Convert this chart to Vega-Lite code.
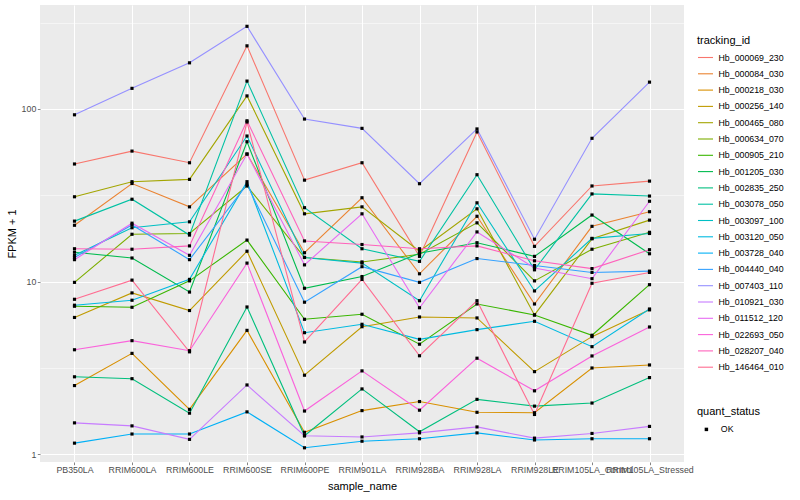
{
"$schema": "https://vega.github.io/schema/vega-lite/v6.json",
"width": 644, "height": 457,
"autosize": {"type": "none"},
"padding": {"left": 40, "top": 5, "right": 116, "bottom": 38},
"background": "white",
"config": {
 "view": {"stroke": null, "fill": "#EBEBEB"},
 "font": "Liberation Sans",
 "axis": {"domain": false, "gridColor": "white", "tickColor": "#333333", "tickSize": 2.7, "tickWidth": 0.6, "labelColor": "#4D4D4D", "labelFontSize": 8.8, "labelFont": "Liberation Sans", "titleFont": "Liberation Sans", "titleFontSize": 11, "titleFontWeight": "normal", "titleColor": "black"},
 "legend": {"titleFont": "Liberation Sans", "labelFont": "Liberation Sans", "titleFontWeight": "normal", "titleFontSize": 11, "labelFontSize": 8.8, "labelColor": "black", "titleColor": "black"}
},
"data": {"values": [
{"sample_name":"PB350LA","tracking_id":"Hb_000069_230","fpkm1":48.0,"quant_status":"OK"},
{"sample_name":"RRIM600LA","tracking_id":"Hb_000069_230","fpkm1":57.0,"quant_status":"OK"},
{"sample_name":"RRIM600LE","tracking_id":"Hb_000069_230","fpkm1":48.8,"quant_status":"OK"},
{"sample_name":"RRIM600SE","tracking_id":"Hb_000069_230","fpkm1":232,"quant_status":"OK"},
{"sample_name":"RRIM600PE","tracking_id":"Hb_000069_230","fpkm1":38.7,"quant_status":"OK"},
{"sample_name":"RRIM901LA","tracking_id":"Hb_000069_230","fpkm1":48.8,"quant_status":"OK"},
{"sample_name":"RRIM928BA","tracking_id":"Hb_000069_230","fpkm1":14.0,"quant_status":"OK"},
{"sample_name":"RRIM928LA","tracking_id":"Hb_000069_230","fpkm1":73.6,"quant_status":"OK"},
{"sample_name":"RRIM928LE","tracking_id":"Hb_000069_230","fpkm1":16.0,"quant_status":"OK"},
{"sample_name":"RRIM105LA_Control","tracking_id":"Hb_000069_230","fpkm1":35.8,"quant_status":"OK"},
{"sample_name":"RRIM105LA_Stressed","tracking_id":"Hb_000069_230","fpkm1":38.2,"quant_status":"OK"},
{"sample_name":"PB350LA","tracking_id":"Hb_000084_030","fpkm1":21.2,"quant_status":"OK"},
{"sample_name":"RRIM600LA","tracking_id":"Hb_000084_030","fpkm1":37.0,"quant_status":"OK"},
{"sample_name":"RRIM600LE","tracking_id":"Hb_000084_030","fpkm1":27.1,"quant_status":"OK"},
{"sample_name":"RRIM600SE","tracking_id":"Hb_000084_030","fpkm1":54.8,"quant_status":"OK"},
{"sample_name":"RRIM600PE","tracking_id":"Hb_000084_030","fpkm1":14.7,"quant_status":"OK"},
{"sample_name":"RRIM901LA","tracking_id":"Hb_000084_030","fpkm1":30.6,"quant_status":"OK"},
{"sample_name":"RRIM928BA","tracking_id":"Hb_000084_030","fpkm1":11.1,"quant_status":"OK"},
{"sample_name":"RRIM928LA","tracking_id":"Hb_000084_030","fpkm1":23.9,"quant_status":"OK"},
{"sample_name":"RRIM928LE","tracking_id":"Hb_000084_030","fpkm1":7.42,"quant_status":"OK"},
{"sample_name":"RRIM105LA_Control","tracking_id":"Hb_000084_030","fpkm1":20.9,"quant_status":"OK"},
{"sample_name":"RRIM105LA_Stressed","tracking_id":"Hb_000084_030","fpkm1":25.4,"quant_status":"OK"},
{"sample_name":"PB350LA","tracking_id":"Hb_000218_030","fpkm1":2.50,"quant_status":"OK"},
{"sample_name":"RRIM600LA","tracking_id":"Hb_000218_030","fpkm1":3.84,"quant_status":"OK"},
{"sample_name":"RRIM600LE","tracking_id":"Hb_000218_030","fpkm1":1.82,"quant_status":"OK"},
{"sample_name":"RRIM600SE","tracking_id":"Hb_000218_030","fpkm1":5.22,"quant_status":"OK"},
{"sample_name":"RRIM600PE","tracking_id":"Hb_000218_030","fpkm1":1.34,"quant_status":"OK"},
{"sample_name":"RRIM901LA","tracking_id":"Hb_000218_030","fpkm1":1.79,"quant_status":"OK"},
{"sample_name":"RRIM928BA","tracking_id":"Hb_000218_030","fpkm1":2.02,"quant_status":"OK"},
{"sample_name":"RRIM928LA","tracking_id":"Hb_000218_030","fpkm1":1.75,"quant_status":"OK"},
{"sample_name":"RRIM928LE","tracking_id":"Hb_000218_030","fpkm1":1.74,"quant_status":"OK"},
{"sample_name":"RRIM105LA_Control","tracking_id":"Hb_000218_030","fpkm1":3.16,"quant_status":"OK"},
{"sample_name":"RRIM105LA_Stressed","tracking_id":"Hb_000218_030","fpkm1":3.29,"quant_status":"OK"},
{"sample_name":"PB350LA","tracking_id":"Hb_000256_140","fpkm1":6.2,"quant_status":"OK"},
{"sample_name":"RRIM600LA","tracking_id":"Hb_000256_140","fpkm1":8.6,"quant_status":"OK"},
{"sample_name":"RRIM600LE","tracking_id":"Hb_000256_140","fpkm1":6.8,"quant_status":"OK"},
{"sample_name":"RRIM600SE","tracking_id":"Hb_000256_140","fpkm1":15.0,"quant_status":"OK"},
{"sample_name":"RRIM600PE","tracking_id":"Hb_000256_140","fpkm1":2.87,"quant_status":"OK"},
{"sample_name":"RRIM901LA","tracking_id":"Hb_000256_140","fpkm1":5.48,"quant_status":"OK"},
{"sample_name":"RRIM928BA","tracking_id":"Hb_000256_140","fpkm1":6.24,"quant_status":"OK"},
{"sample_name":"RRIM928LA","tracking_id":"Hb_000256_140","fpkm1":6.16,"quant_status":"OK"},
{"sample_name":"RRIM928LE","tracking_id":"Hb_000256_140","fpkm1":3.01,"quant_status":"OK"},
{"sample_name":"RRIM105LA_Control","tracking_id":"Hb_000256_140","fpkm1":4.8,"quant_status":"OK"},
{"sample_name":"RRIM105LA_Stressed","tracking_id":"Hb_000256_140","fpkm1":6.86,"quant_status":"OK"},
{"sample_name":"PB350LA","tracking_id":"Hb_000465_080","fpkm1":31.0,"quant_status":"OK"},
{"sample_name":"RRIM600LA","tracking_id":"Hb_000465_080","fpkm1":37.9,"quant_status":"OK"},
{"sample_name":"RRIM600LE","tracking_id":"Hb_000465_080","fpkm1":39.1,"quant_status":"OK"},
{"sample_name":"RRIM600SE","tracking_id":"Hb_000465_080","fpkm1":119,"quant_status":"OK"},
{"sample_name":"RRIM600PE","tracking_id":"Hb_000465_080","fpkm1":24.7,"quant_status":"OK"},
{"sample_name":"RRIM901LA","tracking_id":"Hb_000465_080","fpkm1":27.1,"quant_status":"OK"},
{"sample_name":"RRIM928BA","tracking_id":"Hb_000465_080","fpkm1":15.0,"quant_status":"OK"},
{"sample_name":"RRIM928LA","tracking_id":"Hb_000465_080","fpkm1":26.4,"quant_status":"OK"},
{"sample_name":"RRIM928LE","tracking_id":"Hb_000465_080","fpkm1":6.41,"quant_status":"OK"},
{"sample_name":"RRIM105LA_Control","tracking_id":"Hb_000465_080","fpkm1":17.7,"quant_status":"OK"},
{"sample_name":"RRIM105LA_Stressed","tracking_id":"Hb_000465_080","fpkm1":22.7,"quant_status":"OK"},
{"sample_name":"PB350LA","tracking_id":"Hb_000634_070","fpkm1":9.9,"quant_status":"OK"},
{"sample_name":"RRIM600LA","tracking_id":"Hb_000634_070","fpkm1":18.8,"quant_status":"OK"},
{"sample_name":"RRIM600LE","tracking_id":"Hb_000634_070","fpkm1":19.0,"quant_status":"OK"},
{"sample_name":"RRIM600SE","tracking_id":"Hb_000634_070","fpkm1":35.8,"quant_status":"OK"},
{"sample_name":"RRIM600PE","tracking_id":"Hb_000634_070","fpkm1":13.8,"quant_status":"OK"},
{"sample_name":"RRIM901LA","tracking_id":"Hb_000634_070","fpkm1":13.0,"quant_status":"OK"},
{"sample_name":"RRIM928BA","tracking_id":"Hb_000634_070","fpkm1":14.4,"quant_status":"OK"},
{"sample_name":"RRIM928LA","tracking_id":"Hb_000634_070","fpkm1":21.9,"quant_status":"OK"},
{"sample_name":"RRIM928LE","tracking_id":"Hb_000634_070","fpkm1":10.1,"quant_status":"OK"},
{"sample_name":"RRIM105LA_Control","tracking_id":"Hb_000634_070","fpkm1":15.4,"quant_status":"OK"},
{"sample_name":"RRIM105LA_Stressed","tracking_id":"Hb_000634_070","fpkm1":19.3,"quant_status":"OK"},
{"sample_name":"PB350LA","tracking_id":"Hb_000905_210","fpkm1":7.2,"quant_status":"OK"},
{"sample_name":"RRIM600LA","tracking_id":"Hb_000905_210","fpkm1":7.1,"quant_status":"OK"},
{"sample_name":"RRIM600LE","tracking_id":"Hb_000905_210","fpkm1":10.1,"quant_status":"OK"},
{"sample_name":"RRIM600SE","tracking_id":"Hb_000905_210","fpkm1":17.4,"quant_status":"OK"},
{"sample_name":"RRIM600PE","tracking_id":"Hb_000905_210","fpkm1":6.05,"quant_status":"OK"},
{"sample_name":"RRIM901LA","tracking_id":"Hb_000905_210","fpkm1":6.47,"quant_status":"OK"},
{"sample_name":"RRIM928BA","tracking_id":"Hb_000905_210","fpkm1":4.34,"quant_status":"OK"},
{"sample_name":"RRIM928LA","tracking_id":"Hb_000905_210","fpkm1":7.42,"quant_status":"OK"},
{"sample_name":"RRIM928LE","tracking_id":"Hb_000905_210","fpkm1":6.41,"quant_status":"OK"},
{"sample_name":"RRIM105LA_Control","tracking_id":"Hb_000905_210","fpkm1":4.89,"quant_status":"OK"},
{"sample_name":"RRIM105LA_Stressed","tracking_id":"Hb_000905_210","fpkm1":9.6,"quant_status":"OK"},
{"sample_name":"PB350LA","tracking_id":"Hb_001205_030","fpkm1":14.8,"quant_status":"OK"},
{"sample_name":"RRIM600LA","tracking_id":"Hb_001205_030","fpkm1":13.7,"quant_status":"OK"},
{"sample_name":"RRIM600LE","tracking_id":"Hb_001205_030","fpkm1":8.7,"quant_status":"OK"},
{"sample_name":"RRIM600SE","tracking_id":"Hb_001205_030","fpkm1":64.6,"quant_status":"OK"},
{"sample_name":"RRIM600PE","tracking_id":"Hb_001205_030","fpkm1":9.15,"quant_status":"OK"},
{"sample_name":"RRIM901LA","tracking_id":"Hb_001205_030","fpkm1":10.7,"quant_status":"OK"},
{"sample_name":"RRIM928BA","tracking_id":"Hb_001205_030","fpkm1":14.6,"quant_status":"OK"},
{"sample_name":"RRIM928LA","tracking_id":"Hb_001205_030","fpkm1":16.8,"quant_status":"OK"},
{"sample_name":"RRIM928LE","tracking_id":"Hb_001205_030","fpkm1":14.0,"quant_status":"OK"},
{"sample_name":"RRIM105LA_Control","tracking_id":"Hb_001205_030","fpkm1":24.3,"quant_status":"OK"},
{"sample_name":"RRIM105LA_Stressed","tracking_id":"Hb_001205_030","fpkm1":14.5,"quant_status":"OK"},
{"sample_name":"PB350LA","tracking_id":"Hb_002835_250","fpkm1":2.81,"quant_status":"OK"},
{"sample_name":"RRIM600LA","tracking_id":"Hb_002835_250","fpkm1":2.74,"quant_status":"OK"},
{"sample_name":"RRIM600LE","tracking_id":"Hb_002835_250","fpkm1":1.73,"quant_status":"OK"},
{"sample_name":"RRIM600SE","tracking_id":"Hb_002835_250","fpkm1":7.13,"quant_status":"OK"},
{"sample_name":"RRIM600PE","tracking_id":"Hb_002835_250","fpkm1":1.28,"quant_status":"OK"},
{"sample_name":"RRIM901LA","tracking_id":"Hb_002835_250","fpkm1":2.39,"quant_status":"OK"},
{"sample_name":"RRIM928BA","tracking_id":"Hb_002835_250","fpkm1":1.35,"quant_status":"OK"},
{"sample_name":"RRIM928LA","tracking_id":"Hb_002835_250","fpkm1":2.08,"quant_status":"OK"},
{"sample_name":"RRIM928LE","tracking_id":"Hb_002835_250","fpkm1":1.90,"quant_status":"OK"},
{"sample_name":"RRIM105LA_Control","tracking_id":"Hb_002835_250","fpkm1":1.98,"quant_status":"OK"},
{"sample_name":"RRIM105LA_Stressed","tracking_id":"Hb_002835_250","fpkm1":2.78,"quant_status":"OK"},
{"sample_name":"PB350LA","tracking_id":"Hb_003078_050","fpkm1":22.4,"quant_status":"OK"},
{"sample_name":"RRIM600LA","tracking_id":"Hb_003078_050","fpkm1":30.0,"quant_status":"OK"},
{"sample_name":"RRIM600LE","tracking_id":"Hb_003078_050","fpkm1":18.6,"quant_status":"OK"},
{"sample_name":"RRIM600SE","tracking_id":"Hb_003078_050","fpkm1":145,"quant_status":"OK"},
{"sample_name":"RRIM600PE","tracking_id":"Hb_003078_050","fpkm1":26.8,"quant_status":"OK"},
{"sample_name":"RRIM901LA","tracking_id":"Hb_003078_050","fpkm1":15.5,"quant_status":"OK"},
{"sample_name":"RRIM928BA","tracking_id":"Hb_003078_050","fpkm1":13.1,"quant_status":"OK"},
{"sample_name":"RRIM928LA","tracking_id":"Hb_003078_050","fpkm1":41.6,"quant_status":"OK"},
{"sample_name":"RRIM928LE","tracking_id":"Hb_003078_050","fpkm1":11.7,"quant_status":"OK"},
{"sample_name":"RRIM105LA_Control","tracking_id":"Hb_003078_050","fpkm1":32.2,"quant_status":"OK"},
{"sample_name":"RRIM105LA_Stressed","tracking_id":"Hb_003078_050","fpkm1":31.3,"quant_status":"OK"},
{"sample_name":"PB350LA","tracking_id":"Hb_003097_100","fpkm1":14.2,"quant_status":"OK"},
{"sample_name":"RRIM600LA","tracking_id":"Hb_003097_100","fpkm1":20.5,"quant_status":"OK"},
{"sample_name":"RRIM600LE","tracking_id":"Hb_003097_100","fpkm1":22.2,"quant_status":"OK"},
{"sample_name":"RRIM600SE","tracking_id":"Hb_003097_100","fpkm1":69.7,"quant_status":"OK"},
{"sample_name":"RRIM600PE","tracking_id":"Hb_003097_100","fpkm1":13.8,"quant_status":"OK"},
{"sample_name":"RRIM901LA","tracking_id":"Hb_003097_100","fpkm1":12.8,"quant_status":"OK"},
{"sample_name":"RRIM928BA","tracking_id":"Hb_003097_100","fpkm1":7.75,"quant_status":"OK"},
{"sample_name":"RRIM928LA","tracking_id":"Hb_003097_100","fpkm1":28.6,"quant_status":"OK"},
{"sample_name":"RRIM928LE","tracking_id":"Hb_003097_100","fpkm1":8.83,"quant_status":"OK"},
{"sample_name":"RRIM105LA_Control","tracking_id":"Hb_003097_100","fpkm1":17.8,"quant_status":"OK"},
{"sample_name":"RRIM105LA_Stressed","tracking_id":"Hb_003097_100","fpkm1":19.0,"quant_status":"OK"},
{"sample_name":"PB350LA","tracking_id":"Hb_003120_050","fpkm1":7.3,"quant_status":"OK"},
{"sample_name":"RRIM600LA","tracking_id":"Hb_003120_050","fpkm1":7.8,"quant_status":"OK"},
{"sample_name":"RRIM600LE","tracking_id":"Hb_003120_050","fpkm1":10.3,"quant_status":"OK"},
{"sample_name":"RRIM600SE","tracking_id":"Hb_003120_050","fpkm1":37.9,"quant_status":"OK"},
{"sample_name":"RRIM600PE","tracking_id":"Hb_003120_050","fpkm1":5.06,"quant_status":"OK"},
{"sample_name":"RRIM901LA","tracking_id":"Hb_003120_050","fpkm1":5.66,"quant_status":"OK"},
{"sample_name":"RRIM928BA","tracking_id":"Hb_003120_050","fpkm1":4.63,"quant_status":"OK"},
{"sample_name":"RRIM928LA","tracking_id":"Hb_003120_050","fpkm1":5.27,"quant_status":"OK"},
{"sample_name":"RRIM928LE","tracking_id":"Hb_003120_050","fpkm1":5.89,"quant_status":"OK"},
{"sample_name":"RRIM105LA_Control","tracking_id":"Hb_003120_050","fpkm1":4.2,"quant_status":"OK"},
{"sample_name":"RRIM105LA_Stressed","tracking_id":"Hb_003120_050","fpkm1":6.94,"quant_status":"OK"},
{"sample_name":"PB350LA","tracking_id":"Hb_003728_040","fpkm1":1.16,"quant_status":"OK"},
{"sample_name":"RRIM600LA","tracking_id":"Hb_003728_040","fpkm1":1.31,"quant_status":"OK"},
{"sample_name":"RRIM600LE","tracking_id":"Hb_003728_040","fpkm1":1.31,"quant_status":"OK"},
{"sample_name":"RRIM600SE","tracking_id":"Hb_003728_040","fpkm1":1.76,"quant_status":"OK"},
{"sample_name":"RRIM600PE","tracking_id":"Hb_003728_040","fpkm1":1.09,"quant_status":"OK"},
{"sample_name":"RRIM901LA","tracking_id":"Hb_003728_040","fpkm1":1.19,"quant_status":"OK"},
{"sample_name":"RRIM928BA","tracking_id":"Hb_003728_040","fpkm1":1.23,"quant_status":"OK"},
{"sample_name":"RRIM928LA","tracking_id":"Hb_003728_040","fpkm1":1.33,"quant_status":"OK"},
{"sample_name":"RRIM928LE","tracking_id":"Hb_003728_040","fpkm1":1.21,"quant_status":"OK"},
{"sample_name":"RRIM105LA_Control","tracking_id":"Hb_003728_040","fpkm1":1.23,"quant_status":"OK"},
{"sample_name":"RRIM105LA_Stressed","tracking_id":"Hb_003728_040","fpkm1":1.23,"quant_status":"OK"},
{"sample_name":"PB350LA","tracking_id":"Hb_004440_040","fpkm1":13.8,"quant_status":"OK"},
{"sample_name":"RRIM600LA","tracking_id":"Hb_004440_040","fpkm1":21.3,"quant_status":"OK"},
{"sample_name":"RRIM600LE","tracking_id":"Hb_004440_040","fpkm1":13.4,"quant_status":"OK"},
{"sample_name":"RRIM600SE","tracking_id":"Hb_004440_040","fpkm1":36.6,"quant_status":"OK"},
{"sample_name":"RRIM600PE","tracking_id":"Hb_004440_040","fpkm1":7.6,"quant_status":"OK"},
{"sample_name":"RRIM901LA","tracking_id":"Hb_004440_040","fpkm1":12.2,"quant_status":"OK"},
{"sample_name":"RRIM928BA","tracking_id":"Hb_004440_040","fpkm1":9.9,"quant_status":"OK"},
{"sample_name":"RRIM928LA","tracking_id":"Hb_004440_040","fpkm1":13.6,"quant_status":"OK"},
{"sample_name":"RRIM928LE","tracking_id":"Hb_004440_040","fpkm1":12.4,"quant_status":"OK"},
{"sample_name":"RRIM105LA_Control","tracking_id":"Hb_004440_040","fpkm1":11.3,"quant_status":"OK"},
{"sample_name":"RRIM105LA_Stressed","tracking_id":"Hb_004440_040","fpkm1":11.5,"quant_status":"OK"},
{"sample_name":"PB350LA","tracking_id":"Hb_007403_110","fpkm1":92.5,"quant_status":"OK"},
{"sample_name":"RRIM600LA","tracking_id":"Hb_007403_110","fpkm1":131.6,"quant_status":"OK"},
{"sample_name":"RRIM600LE","tracking_id":"Hb_007403_110","fpkm1":185,"quant_status":"OK"},
{"sample_name":"RRIM600SE","tracking_id":"Hb_007403_110","fpkm1":301,"quant_status":"OK"},
{"sample_name":"RRIM600PE","tracking_id":"Hb_007403_110","fpkm1":87.4,"quant_status":"OK"},
{"sample_name":"RRIM901LA","tracking_id":"Hb_007403_110","fpkm1":77.2,"quant_status":"OK"},
{"sample_name":"RRIM928BA","tracking_id":"Hb_007403_110","fpkm1":36.9,"quant_status":"OK"},
{"sample_name":"RRIM928LA","tracking_id":"Hb_007403_110","fpkm1":76.6,"quant_status":"OK"},
{"sample_name":"RRIM928LE","tracking_id":"Hb_007403_110","fpkm1":17.6,"quant_status":"OK"},
{"sample_name":"RRIM105LA_Control","tracking_id":"Hb_007403_110","fpkm1":67.6,"quant_status":"OK"},
{"sample_name":"RRIM105LA_Stressed","tracking_id":"Hb_007403_110","fpkm1":143,"quant_status":"OK"},
{"sample_name":"PB350LA","tracking_id":"Hb_010921_030","fpkm1":1.52,"quant_status":"OK"},
{"sample_name":"RRIM600LA","tracking_id":"Hb_010921_030","fpkm1":1.46,"quant_status":"OK"},
{"sample_name":"RRIM600LE","tracking_id":"Hb_010921_030","fpkm1":1.22,"quant_status":"OK"},
{"sample_name":"RRIM600SE","tracking_id":"Hb_010921_030","fpkm1":2.52,"quant_status":"OK"},
{"sample_name":"RRIM600PE","tracking_id":"Hb_010921_030","fpkm1":1.28,"quant_status":"OK"},
{"sample_name":"RRIM901LA","tracking_id":"Hb_010921_030","fpkm1":1.26,"quant_status":"OK"},
{"sample_name":"RRIM928BA","tracking_id":"Hb_010921_030","fpkm1":1.33,"quant_status":"OK"},
{"sample_name":"RRIM928LA","tracking_id":"Hb_010921_030","fpkm1":1.44,"quant_status":"OK"},
{"sample_name":"RRIM928LE","tracking_id":"Hb_010921_030","fpkm1":1.24,"quant_status":"OK"},
{"sample_name":"RRIM105LA_Control","tracking_id":"Hb_010921_030","fpkm1":1.32,"quant_status":"OK"},
{"sample_name":"RRIM105LA_Stressed","tracking_id":"Hb_010921_030","fpkm1":1.45,"quant_status":"OK"},
{"sample_name":"PB350LA","tracking_id":"Hb_011512_120","fpkm1":13.4,"quant_status":"OK"},
{"sample_name":"RRIM600LA","tracking_id":"Hb_011512_120","fpkm1":21.8,"quant_status":"OK"},
{"sample_name":"RRIM600LE","tracking_id":"Hb_011512_120","fpkm1":14.2,"quant_status":"OK"},
{"sample_name":"RRIM600SE","tracking_id":"Hb_011512_120","fpkm1":54.8,"quant_status":"OK"},
{"sample_name":"RRIM600PE","tracking_id":"Hb_011512_120","fpkm1":12.5,"quant_status":"OK"},
{"sample_name":"RRIM901LA","tracking_id":"Hb_011512_120","fpkm1":24.7,"quant_status":"OK"},
{"sample_name":"RRIM928BA","tracking_id":"Hb_011512_120","fpkm1":7.06,"quant_status":"OK"},
{"sample_name":"RRIM928LA","tracking_id":"Hb_011512_120","fpkm1":19.4,"quant_status":"OK"},
{"sample_name":"RRIM928LE","tracking_id":"Hb_011512_120","fpkm1":12.0,"quant_status":"OK"},
{"sample_name":"RRIM105LA_Control","tracking_id":"Hb_011512_120","fpkm1":10.4,"quant_status":"OK"},
{"sample_name":"RRIM105LA_Stressed","tracking_id":"Hb_011512_120","fpkm1":29.2,"quant_status":"OK"},
{"sample_name":"PB350LA","tracking_id":"Hb_022693_050","fpkm1":4.03,"quant_status":"OK"},
{"sample_name":"RRIM600LA","tracking_id":"Hb_022693_050","fpkm1":4.55,"quant_status":"OK"},
{"sample_name":"RRIM600LE","tracking_id":"Hb_022693_050","fpkm1":3.98,"quant_status":"OK"},
{"sample_name":"RRIM600SE","tracking_id":"Hb_022693_050","fpkm1":12.8,"quant_status":"OK"},
{"sample_name":"RRIM600PE","tracking_id":"Hb_022693_050","fpkm1":1.78,"quant_status":"OK"},
{"sample_name":"RRIM901LA","tracking_id":"Hb_022693_050","fpkm1":3.04,"quant_status":"OK"},
{"sample_name":"RRIM928BA","tracking_id":"Hb_022693_050","fpkm1":1.80,"quant_status":"OK"},
{"sample_name":"RRIM928LA","tracking_id":"Hb_022693_050","fpkm1":3.6,"quant_status":"OK"},
{"sample_name":"RRIM928LE","tracking_id":"Hb_022693_050","fpkm1":2.33,"quant_status":"OK"},
{"sample_name":"RRIM105LA_Control","tracking_id":"Hb_022693_050","fpkm1":3.71,"quant_status":"OK"},
{"sample_name":"RRIM105LA_Stressed","tracking_id":"Hb_022693_050","fpkm1":5.46,"quant_status":"OK"},
{"sample_name":"PB350LA","tracking_id":"Hb_028207_040","fpkm1":15.5,"quant_status":"OK"},
{"sample_name":"RRIM600LA","tracking_id":"Hb_028207_040","fpkm1":15.4,"quant_status":"OK"},
{"sample_name":"RRIM600LE","tracking_id":"Hb_028207_040","fpkm1":16.1,"quant_status":"OK"},
{"sample_name":"RRIM600SE","tracking_id":"Hb_028207_040","fpkm1":85.4,"quant_status":"OK"},
{"sample_name":"RRIM600PE","tracking_id":"Hb_028207_040","fpkm1":17.2,"quant_status":"OK"},
{"sample_name":"RRIM901LA","tracking_id":"Hb_028207_040","fpkm1":16.4,"quant_status":"OK"},
{"sample_name":"RRIM928BA","tracking_id":"Hb_028207_040","fpkm1":15.5,"quant_status":"OK"},
{"sample_name":"RRIM928LA","tracking_id":"Hb_028207_040","fpkm1":16.1,"quant_status":"OK"},
{"sample_name":"RRIM928LE","tracking_id":"Hb_028207_040","fpkm1":13.2,"quant_status":"OK"},
{"sample_name":"RRIM105LA_Control","tracking_id":"Hb_028207_040","fpkm1":11.9,"quant_status":"OK"},
{"sample_name":"RRIM105LA_Stressed","tracking_id":"Hb_028207_040","fpkm1":15.3,"quant_status":"OK"},
{"sample_name":"PB350LA","tracking_id":"Hb_146464_010","fpkm1":7.9,"quant_status":"OK"},
{"sample_name":"RRIM600LA","tracking_id":"Hb_146464_010","fpkm1":10.2,"quant_status":"OK"},
{"sample_name":"RRIM600LE","tracking_id":"Hb_146464_010","fpkm1":3.92,"quant_status":"OK"},
{"sample_name":"RRIM600SE","tracking_id":"Hb_146464_010","fpkm1":84.0,"quant_status":"OK"},
{"sample_name":"RRIM600PE","tracking_id":"Hb_146464_010","fpkm1":4.47,"quant_status":"OK"},
{"sample_name":"RRIM901LA","tracking_id":"Hb_146464_010","fpkm1":10.3,"quant_status":"OK"},
{"sample_name":"RRIM928BA","tracking_id":"Hb_146464_010","fpkm1":3.72,"quant_status":"OK"},
{"sample_name":"RRIM928LA","tracking_id":"Hb_146464_010","fpkm1":7.75,"quant_status":"OK"},
{"sample_name":"RRIM928LE","tracking_id":"Hb_146464_010","fpkm1":1.70,"quant_status":"OK"},
{"sample_name":"RRIM105LA_Control","tracking_id":"Hb_146464_010","fpkm1":9.78,"quant_status":"OK"},
{"sample_name":"RRIM105LA_Stressed","tracking_id":"Hb_146464_010","fpkm1":11.3,"quant_status":"OK"}
]},
"encoding": {
 "x": {"field": "sample_name", "type": "nominal", "title": "sample_name",
  "scale": {"type": "point", "padding": 0.6, "domain": ["PB350LA","RRIM600LA","RRIM600LE","RRIM600SE","RRIM600PE","RRIM901LA","RRIM928BA","RRIM928LA","RRIM928LE","RRIM105LA_Control","RRIM105LA_Stressed"]},
  "axis": {"labelAngle": 0, "labelOverlap": false, "labelBound": false, "labelPadding": 1, "grid": true, "gridWidth": 1.07, "titleX": 322, "titleY": 24, "titleBaseline": "middle", "titleAlign": "center"}},
 "y": {"field": "fpkm1", "type": "quantitative", "title": "FPKM + 1",
  "scale": {"type": "log", "domain": [0.902, 400], "nice": false, "zero": false},
  "axis": {"values": [1, 3.1623, 10, 31.623, 100, 316.23], "grid": true,
   "gridWidth": {"condition": {"test": "datum.value == 1 || datum.value == 10 || datum.value == 100", "value": 1.07}, "value": 0.53},
   "tickOpacity": {"condition": {"test": "datum.value == 1 || datum.value == 10 || datum.value == 100", "value": 1}, "value": 0},
   "labelExpr": "datum.value == 1 || datum.value == 10 || datum.value == 100 ? format(datum.value, 'd') : ''",
   "labelPadding": 1.5, "titleX": -28, "titleY": 228.5, "titleAngle": -90, "titleBaseline": "middle", "titleAlign": "center"}}
},
"layer": [
 {"mark": {"type": "line", "strokeWidth": 1.1},
  "encoding": {"color": {"field": "tracking_id", "type": "nominal",
   "scale": {"domain": ["Hb_000069_230","Hb_000084_030","Hb_000218_030","Hb_000256_140","Hb_000465_080","Hb_000634_070","Hb_000905_210","Hb_001205_030","Hb_002835_250","Hb_003078_050","Hb_003097_100","Hb_003120_050","Hb_003728_040","Hb_004440_040","Hb_007403_110","Hb_010921_030","Hb_011512_120","Hb_022693_050","Hb_028207_040","Hb_146464_010"],
    "range": ["#F8766D","#EA8331","#D89000","#C09B00","#A3A500","#7CAE00","#39B600","#00BB4E","#00BF7D","#00C1A3","#00BFC4","#00BAE0","#00B0F6","#35A2FF","#9590FF","#C77CFF","#E76BF3","#FA62DB","#FF62BC","#FF6C91"]},
   "legend": {"orient": "none", "legendX": 657, "legendY": 30, "title": "tracking_id", "symbolType": "stroke", "symbolSize": 225, "symbolStrokeWidth": 1.1, "rowPadding": 2.3, "titlePadding": 3, "labelOffset": 4.5, "symbolOffset": 0}}}},
 {"mark": {"type": "point", "filled": true, "size": 10, "color": "black", "opacity": 1},
  "encoding": {"shape": {"field": "quant_status", "type": "nominal", "scale": {"range": ["square"]},
   "legend": {"orient": "none", "legendX": 657, "legendY": 401, "title": "quant_status", "symbolFillColor": "black", "symbolStrokeColor": "black", "symbolSize": 12, "titlePadding": 8, "labelOffset": 10, "symbolOffset": 5}}}}
]
}
